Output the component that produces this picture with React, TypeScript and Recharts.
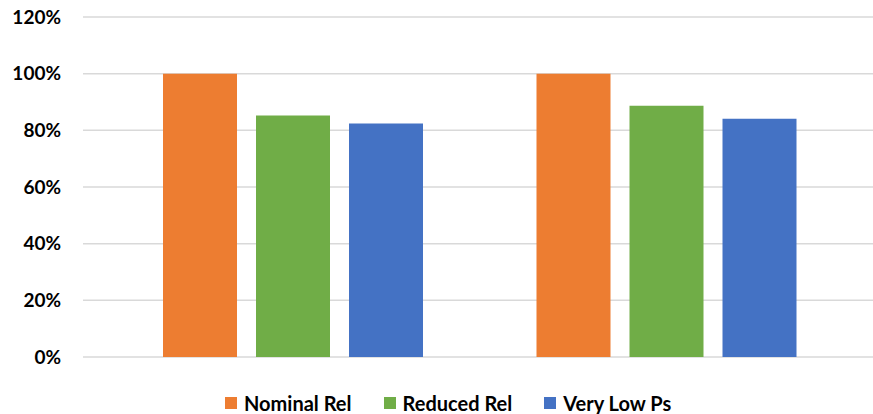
import React from 'react'
import { BarChart, Bar, XAxis, YAxis, CartesianGrid, Legend } from 'recharts'

// two configurations, each compared across three reliability settings
const groups = ['Config A', 'Config B']
const nominalRel = [100, 100]
const reducedRel = [85.2, 88.7]
const veryLowPs = [82.4, 84.1]
const yTicks = [0, 20, 40, 60, 80, 100, 120]

const series = [
  { key: 'nominal', name: 'Nominal Rel', color: '#ED7D31' },
  { key: 'reduced', name: 'Reduced Rel', color: '#70AD47' },
  { key: 'veryLow', name: 'Very Low Ps', color: '#4472C4' },
]

const chartData = groups.map((g, i) => ({
  group: g,
  nominal: nominalRel[i],
  reduced: reducedRel[i],
  veryLow: veryLowPs[i],
}))

const font = 'Lato, "Open Sans", sans-serif'

function LegendRow() {
  return (
    <div style={{ display: 'flex', alignItems: 'center', fontFamily: font, fontWeight: 700, fontSize: 20, color: '#000', lineHeight: '20px' }}>
      {series.map((s) => (
        <div key={s.key} style={{ display: 'flex', alignItems: 'center', marginRight: 32 }}>
          <span style={{ display: 'inline-block', width: 12, height: 12, background: s.color, marginRight: 7 }} />
          <span>{s.name}</span>
        </div>
      ))}
    </div>
  )
}

export default function App() {
  return (
    <div style={{ position: 'absolute', left: 0, top: 0, background: '#fff' }}>
      <BarChart
        width={873}
        height={414}
        data={chartData}
        margin={{ top: 17, right: 0, bottom: 37, left: 0 }}
        barSize={74}
        barGap={19}
      >
        <CartesianGrid vertical={false} stroke="#d9d9d9" strokeWidth={1.5} />
        <XAxis dataKey="group" hide padding={{ left: 23, right: 20 }} />
        <YAxis
          width={83}
          domain={[0, 120]}
          ticks={yTicks}
          interval={0}
          axisLine={false}
          tickLine={false}
          tickMargin={16}
          tickFormatter={(v) => `${v}%`}
          tick={{ fill: '#000', fontSize: 19, fontWeight: 700, fontFamily: font }}
        />
        <Legend
          verticalAlign="bottom"
          content={<LegendRow />}
          wrapperStyle={{ left: 225, bottom: 1, width: 'auto' }}
        />
        {series.map((s) => (
          <Bar key={s.key} dataKey={s.key} name={s.name} fill={s.color} isAnimationActive={false} />
        ))}
      </BarChart>
    </div>
  )
}
